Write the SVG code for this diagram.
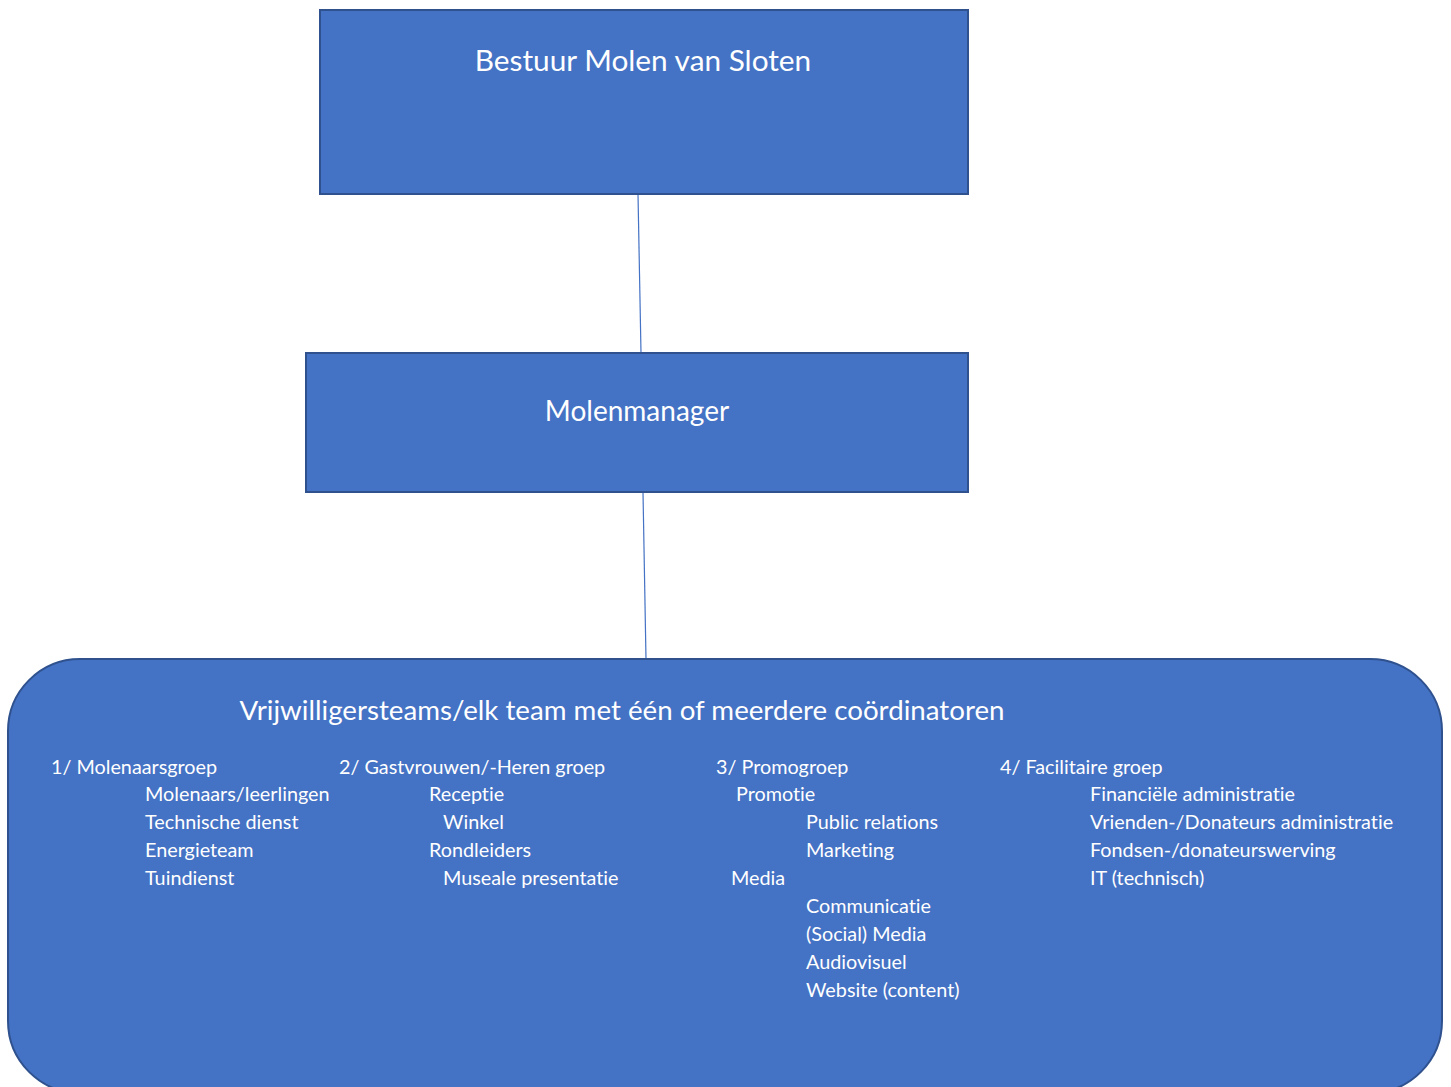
<svg xmlns="http://www.w3.org/2000/svg" width="1451" height="1087" viewBox="0 0 1451 1087">
<style>
.box{fill:#4472C4;stroke:#2F528F;stroke-width:2}
.t{font-family:Lato,"Open Sans","Liberation Sans",sans-serif;fill:#FFFFFF;font-variant-ligatures:none;font-feature-settings:"liga" 0,"clig" 0,"dlig" 0}
.big{font-size:28px}
.s{font-size:19.8px}
.c{fill:none;stroke:#4472C4;stroke-width:1.2}
</style>
<rect width="1451" height="1087" fill="#FFFFFF"/>
<g id="connectors">
<line class="c" x1="638" y1="194" x2="641" y2="353"/>
<line class="c" x1="643" y1="492" x2="646" y2="659"/>
</g>
<g id="bestuur">
<rect class="box" x="320" y="10" width="648" height="184"/>
<text class="t" style="font-size:29.8px" x="643" y="71" text-anchor="middle">Bestuur Molen van Sloten</text>
</g>
<g id="molenmanager">
<rect class="box" x="306" y="353" width="662" height="139"/>
<text class="t big" x="637" y="421" text-anchor="middle">Molenmanager</text>
</g>
<g id="vrijwilligers">
<rect class="box" x="8" y="659" width="1434" height="434" rx="72" ry="72"/>
<text class="t" style="font-size:27.7px" x="622" y="720" text-anchor="middle">Vrijwilligersteams/elk team met één of meerdere coördinatoren</text>
<g class="t s">
<text x="51" y="774">1/ Molenaarsgroep</text>
<text x="145" y="801">Molenaars/leerlingen</text>
<text x="145" y="829">Technische dienst</text>
<text x="145" y="857">Energieteam</text>
<text x="145" y="885">Tuindienst</text>
<text x="339" y="774">2/ Gastvrouwen/-Heren groep</text>
<text x="429" y="801">Receptie</text>
<text x="443" y="829">Winkel</text>
<text x="429" y="857">Rondleiders</text>
<text x="443" y="885">Museale presentatie</text>
<text x="716" y="774">3/ Promogroep</text>
<text x="736" y="801">Promotie</text>
<text x="806" y="829">Public relations</text>
<text x="806" y="857">Marketing</text>
<text x="731" y="885">Media</text>
<text x="806" y="913">Communicatie</text>
<text x="806" y="941">(Social) Media</text>
<text x="806" y="969">Audiovisuel</text>
<text x="806" y="997">Website (content)</text>
<text x="1000" y="774">4/ Facilitaire groep</text>
<text x="1090" y="801">Financiële administratie</text>
<text x="1090" y="829">Vrienden-/Donateurs administratie</text>
<text x="1090" y="857">Fondsen-/donateurswerving</text>
<text x="1090" y="885">IT (technisch)</text>
</g>
</g>
</svg>
